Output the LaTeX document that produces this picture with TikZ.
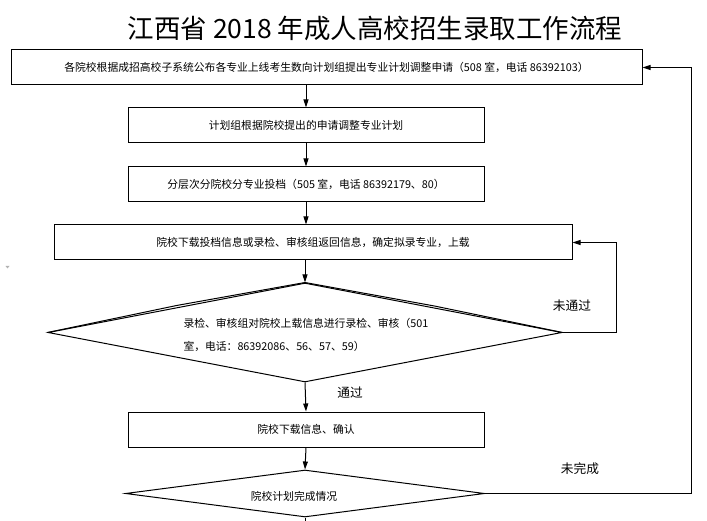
\documentclass[tikz,border=0pt]{standalone}
\usepackage{fontspec}
\setmainfont{Noto Sans CJK SC}
\usetikzlibrary{arrows.meta,shapes.geometric}
\begin{document}
\begin{tikzpicture}[x=1pt,y=-1pt,
  line width=1pt,
  stepbox/.style={draw,rectangle,inner sep=0pt,minimum height=35pt,font=\fontsize{10.8}{13}\selectfont},
  decision/.style={draw,diamond,inner sep=0pt},
  smalltext/.style={inner sep=0pt,font=\fontsize{10.8}{13}\selectfont},
  lbl/.style={inner sep=0pt,font=\fontsize{12.7}{15}\selectfont},
  arr/.style={-{Triangle[length=8pt,width=5pt]}}]
\useasboundingbox (0,0) rectangle (707,521);
\node[inner sep=0pt,font=\fontsize{26.5}{30}\selectfont] (title) at (375,28.5) {江西省 2018 年成人高校招生录取工作流程};
\node[stepbox,minimum width=631pt] (b1) at (326.5,67.5) {各院校根据成招高校子系统公布各专业上线考生数向计划组提出专业计划调整申请（508 室，电话 86392103）};
\node[stepbox,minimum width=356pt] (b2) at (306,125.5) {计划组根据院校提出的申请调整专业计划};
\node[stepbox,minimum width=356pt] (b3) at (306,184.5) {分层次分院校分专业投档（505 室，电话 86392179、80）};
\node[stepbox,minimum width=518pt] (b4) at (313,242.5) {院校下载投档信息或录检、审核组返回信息，确定拟录专业，上载};
\node[decision,minimum width=514pt,minimum height=99pt] (d1) at (305,332.5) {};
\draw (d1.west) -- (176.6,305.5) -- (d1.north) -- (434.4,306) -- (d1.east);
\node[smalltext,anchor=west] (d1ta) at (183,323) {录检、审核组对院校上载信息进行录检、审核（501};
\node[smalltext,anchor=west] (d1tb) at (183,346) {室，电话：86392086、56、57、59）};
\node[stepbox,minimum width=356pt] (b5) at (306,429.5) {院校下载信息、确认};
\node[decision,minimum width=359pt,minimum height=47pt] (d2) at (305,493.5) {};
\node[smalltext] (d2t) at (294,496) {院校计划完成情况};
\coordinate (fb1) at (616,242.5);
\coordinate (fb2) at (691,67.5);
\coordinate (bot) at (305,521);
\draw[arr] (b1.south -| b2.north) -- (b2.north);
\draw[arr] (b2) -- (b3);
\draw[arr] (b3.south) -- (b3.south |- b4.north);
\draw[arr] (b4.south -| d1.north) -- (d1.north);
\draw[arr] (d1.south) -- (b5.north);
\draw[arr] (b5.south) -- (d2.north);
\draw (d2.south) -- (bot);
\draw[arr] (d1.east) -| (fb1) -- (b4.east);
\draw[arr] (d2.east) -| (fb2) -- (b1.east);
\node[lbl] (l1) at (572,306) {未通过};
\node[lbl] (l2) at (350,393) {通过};
\node[lbl] (l3) at (580,469) {未完成};
\fill[gray!60] (5.5,266) -- (9.5,266) -- (7.5,268.5) -- cycle;
\end{tikzpicture}
\end{document}
